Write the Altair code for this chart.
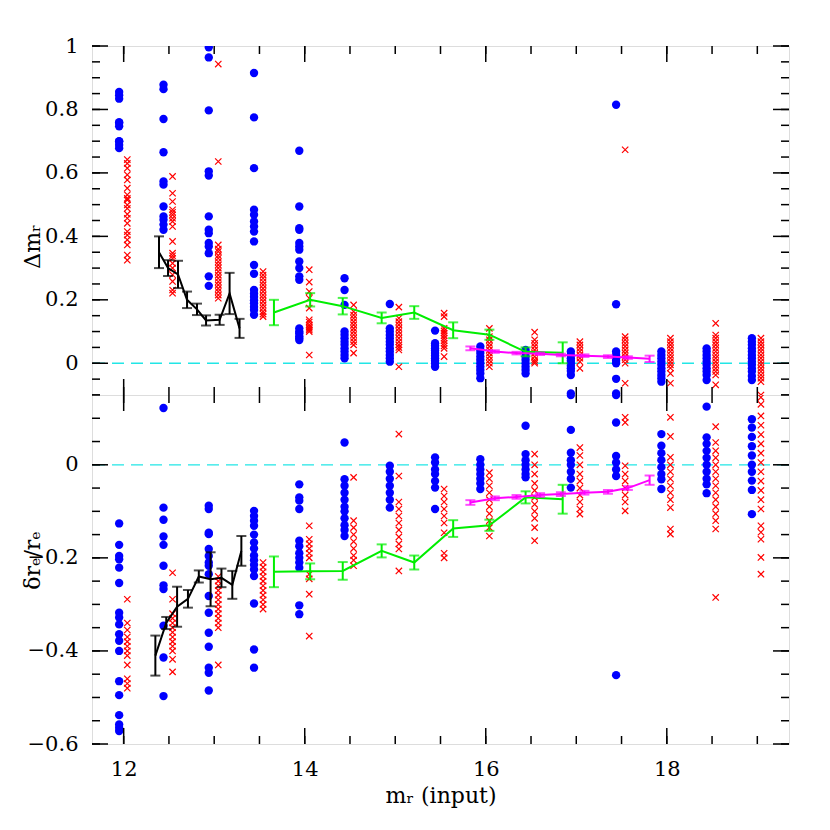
import altair as alt
import pandas as pd

# ---------------- data ----------------
blue_x = [11.95, 12.44, 12.94, 13.44, 13.94, 14.44, 14.94, 15.44, 15.94, 16.44, 16.94, 17.44, 17.94, 18.44, 18.94]
red_x = [12.04, 12.54, 13.045, 13.54, 14.05, 14.54, 15.04, 15.54, 16.04, 16.54, 17.04, 17.54, 18.04, 18.54, 19.04]

top_blue = [
    [0.855, 0.845, 0.834, 0.76, 0.757, 0.747, 0.70, 0.699, 0.688, 0.678],
    [0.878, 0.864, 0.770, 0.665, 0.573, 0.563, 0.494, 0.463, 0.452, 0.437, 0.421],
    [0.996, 0.964, 0.797, 0.605, 0.592, 0.463, 0.421, 0.410, 0.379, 0.368, 0.347, 0.274, 0.244],
    [0.915, 0.775, 0.615, 0.484, 0.468, 0.447, 0.431, 0.415, 0.384, 0.310, 0.282, 0.231, 0.220, 0.210, 0.199, 0.189, 0.178, 0.168, 0.153],
    [0.670, 0.494, 0.426, 0.421, 0.379, 0.368, 0.358, 0.321, 0.300, 0.274, 0.263, 0.110, 0.100, 0.095, 0.085, 0.079, 0.073],
    [0.268, 0.231, 0.184, 0.100, 0.090, 0.079, 0.068, 0.058, 0.047, 0.037, 0.026, 0.016],
    [0.187, 0.110, 0.100, 0.089, 0.079, 0.068, 0.058, 0.047, 0.037, 0.026, 0.016, 0.005],
    [0.103, 0.063, 0.055, 0.047, 0.040, 0.032, 0.024, 0.016, 0.008, 0.000, -0.011],
    [0.053, 0.042, 0.032, 0.021, 0.011, 0.0, -0.011, -0.021, -0.032, -0.047],
    [0.042, 0.032, 0.021, 0.011, 0.000, -0.011, -0.021, -0.032],
    [0.037, 0.026, 0.016, 0.008, 0.000, -0.008, -0.016, -0.024, -0.037, -0.095],
    [0.815, 0.186, 0.037, 0.026, 0.016, 0.008, 0.0, -0.049, -0.095],
    [0.037, 0.026, 0.016, 0.005, -0.005, -0.016, -0.026, -0.037, -0.047, -0.058],
    [0.047, 0.037, 0.026, 0.016, 0.005, -0.005, -0.016, -0.026, -0.037, -0.053],
    [0.079, 0.068, 0.058, 0.047, 0.037, 0.026, 0.016, 0.005, -0.005, -0.016, -0.026, -0.040, -0.053],
]
top_red = [
    [0.642, 0.63, 0.615, 0.594, 0.578, 0.552, 0.531, 0.52, 0.515, 0.499, 0.488, 0.47, 0.457, 0.441, 0.415, 0.404, 0.389, 0.373, 0.341, 0.325],
    [0.589, 0.536, 0.510, 0.484, 0.476, 0.468, 0.457, 0.447, 0.431, 0.384, 0.347, 0.339, 0.331, 0.315, 0.300, 0.279, 0.258, 0.231, 0.221],
    [0.943, 0.636, 0.373, 0.36, 0.352, 0.34, 0.331, 0.32, 0.310, 0.30, 0.289, 0.278, 0.268, 0.257, 0.247, 0.236, 0.226, 0.215, 0.205],
    [0.289, 0.278, 0.268, 0.257, 0.247, 0.236, 0.226, 0.215, 0.205, 0.195, 0.184, 0.174, 0.163, 0.155, 0.147],
    [0.295, 0.256, 0.226, 0.205, 0.174, 0.137, 0.130, 0.121, 0.115, 0.110, 0.105, 0.100, 0.026],
    [0.184, 0.163, 0.152, 0.142, 0.131, 0.121, 0.110, 0.100, 0.090, 0.079, 0.068, 0.058, 0.032],
    [0.177, 0.142, 0.131, 0.121, 0.110, 0.100, 0.090, 0.079, 0.068, 0.058, 0.050, 0.042, -0.011],
    [0.158, 0.147, 0.110, 0.102, 0.095, 0.087, 0.079, 0.071, 0.063, 0.055, 0.047, 0.021],
    [0.110, 0.084, 0.074, 0.063, 0.053, 0.042, 0.032, 0.021, 0.010, 0.000, -0.011],
    [0.098, 0.074, 0.063, 0.053, 0.042, 0.032, 0.021, 0.011, 0.005, 0.0],
    [0.068, 0.058, 0.047, 0.037, 0.026, 0.016, 0.005, -0.016],
    [0.673, 0.084, 0.074, 0.063, 0.053, 0.042, 0.032, 0.021, 0.011, 0.0, -0.063],
    [0.079, 0.068, 0.058, 0.047, 0.037, 0.026, 0.016, 0.005, -0.005, -0.015, -0.032, -0.063],
    [0.126, 0.089, 0.079, 0.068, 0.058, 0.047, 0.037, 0.026, 0.016, 0.005, -0.005, -0.016, -0.026, -0.037, -0.068],
    [0.079, 0.068, 0.058, 0.047, 0.037, 0.026, 0.016, 0.005, -0.005, -0.016, -0.026, -0.037, -0.047, -0.058, -0.1],
]
bot_blue = [
    [-0.126, -0.172, -0.196, -0.203, -0.221, -0.254, -0.318, -0.328, -0.343, -0.364, -0.378, -0.400, -0.465, -0.495, -0.538, -0.558, -0.565, -0.572],
    [0.122, -0.092, -0.118, -0.154, -0.172, -0.217, -0.259, -0.267, -0.346, -0.414, -0.497],
    [-0.088, -0.095, -0.146, -0.149, -0.181, -0.196, -0.210, -0.217, -0.235, -0.282, -0.318, -0.361, -0.391, -0.436, -0.447, -0.485],
    [-0.099, -0.11, -0.12, -0.131, -0.15, -0.167, -0.18, -0.195, -0.205, -0.215, -0.225, -0.239, -0.298, -0.397, -0.436],
    [-0.042, -0.07, -0.077, -0.095, -0.163, -0.175, -0.19, -0.20, -0.21, -0.221, -0.302, -0.321],
    [0.048, -0.031, -0.045, -0.06, -0.075, -0.09, -0.10, -0.115, -0.13, -0.14, -0.153],
    [-0.002, -0.015, -0.03, -0.045, -0.06, -0.075, -0.092],
    [0.016, 0.005, -0.01, -0.02, -0.035, -0.049, -0.095],
    [0.012, 0.0, -0.01, -0.02, -0.03, -0.04, -0.052],
    [0.084, 0.023, 0.01, 0.0, -0.01, -0.02, -0.027],
    [0.15, 0.075, 0.026, 0.01, 0.0, -0.015, -0.03, -0.049],
    [0.15, 0.091, 0.019, 0.005, -0.01, -0.024, -0.452],
    [0.066, 0.041, 0.025, 0.01, -0.005, -0.02, -0.031, -0.052],
    [0.125, 0.059, 0.045, 0.03, 0.015, 0.0, -0.015, -0.03, -0.042, -0.061],
    [0.098, 0.08, 0.06, 0.04, 0.02, 0.0, -0.015, -0.034, -0.054, -0.106],
]
bot_red = [
    [-0.289, -0.34, -0.355, -0.37, -0.38, -0.39, -0.40, -0.41, -0.43, -0.46, -0.47, -0.48],
    [-0.232, -0.289, -0.32, -0.33, -0.34, -0.35, -0.36, -0.37, -0.38, -0.39, -0.40, -0.418, -0.445],
    [-0.24, -0.25, -0.26, -0.27, -0.28, -0.29, -0.30, -0.31, -0.32, -0.33, -0.34, -0.35, -0.43],
    [-0.21, -0.22, -0.23, -0.24, -0.25, -0.26, -0.27, -0.28, -0.29, -0.30, -0.31],
    [-0.131, -0.16, -0.17, -0.18, -0.19, -0.20, -0.235, -0.245, -0.278, -0.368],
    [-0.027, -0.12, -0.135, -0.15, -0.165, -0.18, -0.195, -0.205, -0.217],
    [0.066, -0.024, -0.08, -0.095, -0.11, -0.125, -0.14, -0.155, -0.17, -0.181, -0.228],
    [-0.052, -0.067, -0.08, -0.095, -0.11, -0.125, -0.146, -0.19, -0.2],
    [-0.017, -0.03, -0.045, -0.06, -0.075, -0.09, -0.105, -0.12, -0.135, -0.153],
    [0.023, 0.0, -0.02, -0.04, -0.055, -0.07, -0.085, -0.10, -0.115, -0.135, -0.163],
    [0.037, 0.02, 0.0, -0.02, -0.035, -0.05, -0.065, -0.08, -0.095, -0.106],
    [0.102, 0.091, -0.002, -0.02, -0.035, -0.05, -0.065, -0.08, -0.099],
    [0.102, 0.061, 0.016, 0.0, -0.015, -0.03, -0.045, -0.06, -0.075, -0.092, -0.138, -0.149],
    [0.082, 0.048, 0.03, 0.015, 0.0, -0.015, -0.03, -0.045, -0.06, -0.075, -0.09, -0.105, -0.12, -0.138, -0.285],
    [0.145, 0.13, 0.105, 0.085, 0.065, 0.045, 0.025, 0.005, -0.015, -0.035, -0.055, -0.075, -0.095, -0.131, -0.145, -0.16, -0.199, -0.235],
]

# binned means with errors
black_top_x = [12.39, 12.49, 12.60, 12.70, 12.81, 12.91, 13.06, 13.17, 13.28]
black_top_y = [0.35, 0.30, 0.28, 0.20, 0.17, 0.135, 0.137, 0.22, 0.11]
black_top_e = [0.05, 0.025, 0.043, 0.026, 0.018, 0.016, 0.016, 0.065, 0.03]
black_bot_x = [12.35, 12.47, 12.59, 12.71, 12.83, 12.96, 13.08, 13.20, 13.30]
black_bot_y = [-0.41, -0.34, -0.305, -0.288, -0.24, -0.246, -0.243, -0.258, -0.185]
black_bot_e = [0.043, 0.013, 0.043, 0.019, 0.013, 0.058, 0.02, 0.03, 0.032]

green_x = [13.66, 14.06, 14.42, 14.85, 15.21, 15.64, 16.04, 16.44, 16.85]
green_top_y = [0.16, 0.20, 0.18, 0.143, 0.16, 0.104, 0.09, 0.036, 0.033]
green_top_e = [0.04, 0.021, 0.026, 0.017, 0.02, 0.025, 0.016, 0.014, 0.033]
green_bot_y = [-0.23, -0.229, -0.228, -0.185, -0.21, -0.137, -0.13, -0.07, -0.074]
green_bot_e = [0.033, 0.017, 0.019, 0.014, 0.015, 0.018, 0.012, 0.013, 0.031]

mag_x = [15.83, 16.10, 16.34, 16.60, 16.83, 17.09, 17.35, 17.57, 17.81]
mag_top_y = [0.047, 0.037, 0.032, 0.030, 0.026, 0.024, 0.021, 0.018, 0.014]
mag_top_e = [0.006, 0.004, 0.004, 0.004, 0.004, 0.004, 0.004, 0.004, 0.01]
mag_bot_y = [-0.081, -0.072, -0.069, -0.065, -0.063, -0.060, -0.058, -0.050, -0.033]
mag_bot_e = [0.005, 0.004, 0.004, 0.004, 0.004, 0.004, 0.004, 0.004, 0.01]

x_domain = [11.65, 19.35]
top_domain = [-0.1, 1.0]
bot_domain = [-0.6, 0.15]
x_minor = [12 + 0.5 * i for i in range(15)]
x_major = [12, 14, 16, 18]
top_minor = [round(-0.1 + 0.05 * i, 3) for i in range(23)]
top_major = [0, 0.2, 0.4, 0.6, 0.8, 1.0]
bot_minor = [round(-0.6 + 0.05 * i, 3) for i in range(16)]
bot_major = [-0.6, -0.4, -0.2, 0]

# ---------------- chart ----------------
FONT = "DejaVu Serif"
W = 697
H = 349


def scatter_df(xs, cols):
    rows = []
    for x, vals in zip(xs, cols):
        for v in vals:
            rows.append({"x": x, "y": v})
    return pd.DataFrame(rows)


def mean_df(xs, ys, es):
    return pd.DataFrame({"x": xs, "y": ys, "lo": [a - b for a, b in zip(ys, es)],
                         "hi": [a + b for a, b in zip(ys, es)]})


def panel(blue, red, means, ydom, ymajor, yminor, ytitle, title_y, bottom):
    xs = alt.Scale(domain=x_domain, nice=False, zero=False)
    ys = alt.Scale(domain=ydom, nice=False, zero=False)
    if bottom:
        xaxis = alt.Axis(values=x_major, format="d", ticks=False, domain=False, grid=False,
                         title="mᵣ (input)", labelPadding=14, titlePadding=6,
                         labelFont=FONT, labelFontSize=21, titleFont=FONT, titleFontSize=22,
                         titleFontWeight="normal", labelColor="black", titleColor="black")
    else:
        xaxis = None
    yaxis = alt.Axis(values=ymajor, format="~g", ticks=False, domain=False, grid=False,
                     title=ytitle, labelPadding=14, titleX=-60, titleY=title_y,
                     titleBaseline="middle", titleAngle=270,
                     labelFont=FONT, labelFontSize=21, titleFont=FONT, titleFontSize=22,
                     titleFontWeight="normal", labelColor="black", titleColor="black")
    X = lambda f: alt.X(f, type="quantitative", scale=xs, axis=xaxis)
    Y = lambda f: alt.Y(f, type="quantitative", scale=ys, axis=yaxis)

    layers = []
    zero = alt.Chart(pd.DataFrame({"y": [0.0]})).mark_rule(
        color="#22e6e6", strokeWidth=1.3, strokeDash=[12, 7]).encode(y=Y("y"))
    layers.append(zero)
    layers.append(alt.Chart(scatter_df(blue_x, blue)).mark_circle(
        size=70, color="#0000ff", opacity=1, clip=True).encode(x=X("x"), y=Y("y")))
    layers.append(alt.Chart(scatter_df(red_x, red)).mark_point(
        shape="M-1,-1L1,1M-1,1L1,-1", size=40, strokeWidth=1.2, color="#ff0000",
        filled=False, opacity=1, clip=True).encode(x=X("x"), y=Y("y")))
    for df, col in means:
        layers.append(alt.Chart(df).mark_line(color=col, strokeWidth=2, clip=True).encode(
            x=X("x"), y=Y("y")))
        layers.append(alt.Chart(df).mark_rule(color=col, strokeWidth=2, clip=True).encode(
            x=X("x"), y=Y("lo"), y2="hi"))
        for f in ["lo", "hi"]:
            layers.append(alt.Chart(df).mark_tick(color=col, orient="horizontal", size=10,
                                                  thickness=2, clip=True).encode(
                x=X("x"), y=Y(f)))
    # inward frame ticks
    for vals, L in [(x_minor, 8), (x_major, 16)]:
        d = pd.DataFrame({"v": vals})
        layers.append(alt.Chart(d).mark_rule(color="black", strokeWidth=1.5).encode(
            x=X("v"), y=alt.value(0), y2=alt.value(L)))
        layers.append(alt.Chart(d).mark_rule(color="black", strokeWidth=1.5).encode(
            x=X("v"), y=alt.value(H), y2=alt.value(H - L)))
    for vals, L in [(yminor, 8), (ymajor, 16)]:
        d = pd.DataFrame({"v": vals})
        layers.append(alt.Chart(d).mark_rule(color="black", strokeWidth=1.5).encode(
            y=Y("v"), x=alt.value(0), x2=alt.value(L)))
        layers.append(alt.Chart(d).mark_rule(color="black", strokeWidth=1.5).encode(
            y=Y("v"), x=alt.value(W), x2=alt.value(W - L)))
    return alt.layer(*layers).properties(width=W, height=H)


top = panel(top_blue, top_red,
            [(mean_df(black_top_x, black_top_y, black_top_e), "black"),
             (mean_df(green_x, green_top_y, green_top_e), "#00ee00"),
             (mean_df(mag_x, mag_top_y, mag_top_e), "#ff00ff")],
            top_domain, top_major, top_minor, "Δmᵣ", 200, False)
bot = panel(bot_blue, bot_red,
            [(mean_df(black_bot_x, black_bot_y, black_bot_e), "black"),
             (mean_df(green_x, green_bot_y, green_bot_e), "#00ee00"),
             (mean_df(mag_x, mag_bot_y, mag_bot_e), "#ff00ff")],
            bot_domain, bot_major, bot_minor, "δrₑ/rₑ", 165, True)

chart = alt.vconcat(top, bot, spacing=0, bounds="flush").properties(
    padding={"left": 12, "top": 26, "right": 10, "bottom": 10}
).configure_view(stroke="black", strokeWidth=1.5).configure(background="white")

chart.save("out.html", embed_options={"renderer": "svg", "actions": False})
